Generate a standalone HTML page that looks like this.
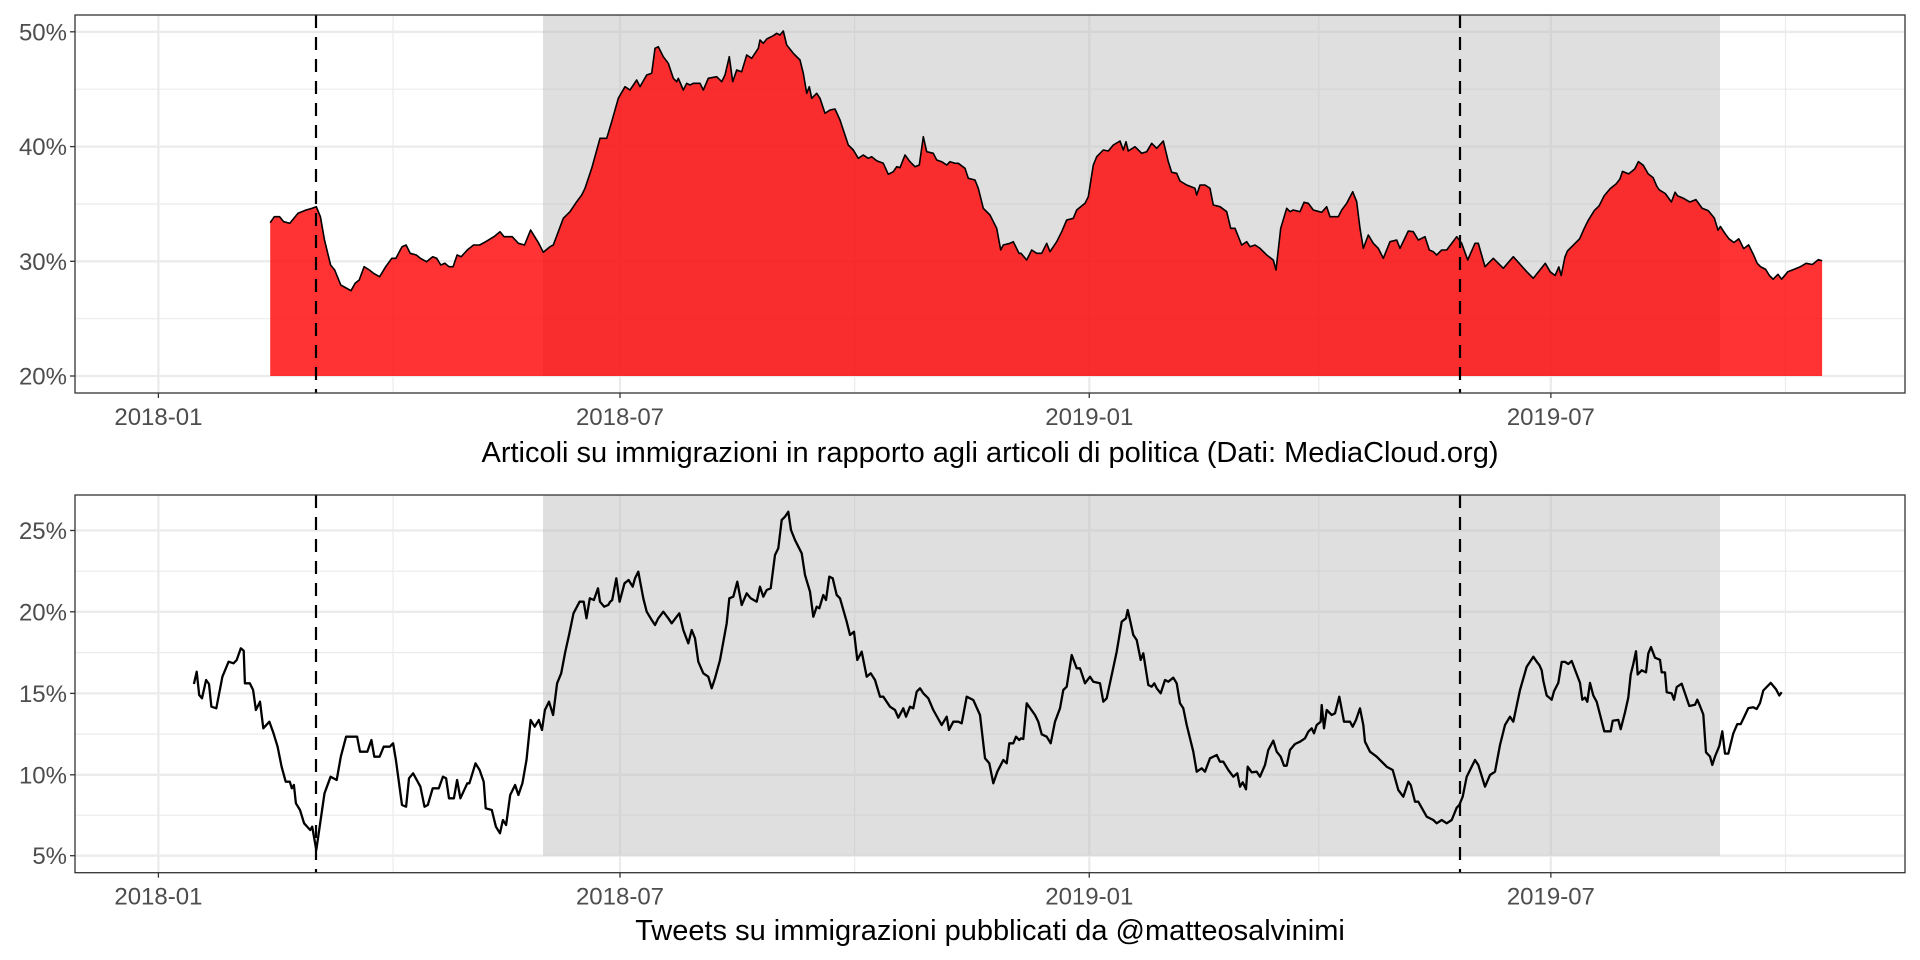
<!DOCTYPE html>
<html><head><meta charset="utf-8">
<style>
html,body{margin:0;padding:0;background:#fff;}
svg{display:block;font-family:"Liberation Sans",Arial,sans-serif;}
</style></head>
<body>
<svg id="s" width="1920" height="960" xmlns="http://www.w3.org/2000/svg">
<rect width="1920" height="960" fill="#fff"/>
<g id="g"></g>
</svg>
<script>
var NS="http://www.w3.org/2000/svg",g=document.getElementById('g');
function el(t,a,txt){var e=document.createElementNS(NS,t);for(var k in a)e.setAttribute(k,a[k]);if(txt!=null)e.textContent=txt;g.appendChild(e);return e;}
function X(d){return 158.4+d*2.5503;}
var xt=[0,181,365,546],xl=["2018-01","2018-07","2019-01","2019-07"],xm=[92,273,455,638];
function panel(top,bot,yt,ym,yl,shBot){
  var L=75,R=1905;
  ym.forEach(function(y){el('line',{x1:L,x2:R,y1:y,y2:y,stroke:'#ebebeb','stroke-width':1.2});});
  xm.forEach(function(d){var x=X(d);if(x<R)el('line',{x1:x,x2:x,y1:top,y2:bot,stroke:'#ebebeb','stroke-width':1.2});});
  yt.forEach(function(y){el('line',{x1:L,x2:R,y1:y,y2:y,stroke:'#ebebeb','stroke-width':2.3});});
  xt.forEach(function(d){var x=X(d);el('line',{x1:x,x2:x,y1:top,y2:bot,stroke:'#ebebeb','stroke-width':2.3});});
  el('rect',{x:543,y:top,width:1720-543,height:shBot-top,fill:'#bdbdbd','fill-opacity':0.48});
}
function panelFront(top,bot,yt,yl){
  var L=75,R=1905;
  [316,1460].forEach(function(x){el('line',{x1:x,x2:x,y1:top,y2:bot,stroke:'#000','stroke-width':2.2,'stroke-dasharray':'13,9'});});
  el('rect',{x:L,y:top,width:R-L,height:bot-top,fill:'none',stroke:'#333','stroke-width':1.3});
  yt.forEach(function(y,i){el('line',{x1:L-5,x2:L,y1:y,y2:y,stroke:'#333','stroke-width':1.3});
    el('text',{x:L-8,y:y+8.5,'text-anchor':'end','font-size':24,fill:'#4d4d4d'},yl[i]);});
  xt.forEach(function(d,i){var x=X(d);el('line',{x1:x,x2:x,y1:bot,y2:bot+5,stroke:'#333','stroke-width':1.3});
    el('text',{x:x,y:bot+32,'text-anchor':'middle','font-size':24,fill:'#4d4d4d'},xl[i]);});
}
function seg(p,ox,oy,sx,sy){var r=[];for(var i=0;i<p.length;i+=2)r.push([ox+p[i]/sx,oy+p[i+1]/sy]);return r;}
var A=seg([662,668,672,650,685,650,695,665,710,670,730,640,750,630,765,625,775,620,785,650,795,720,810,795,820,810,835,855,860,872,870,850,880,840,892,800,905,810,915,820,930,830,945,800,960,775,970,775,985,740,995,735,1005,760,1020,765,1030,775,1045,785,1060,770,1070,775,1080,795,1090,790,1100,800,1110,800,1120,765,1130,770,1145,750,1160,735,1175,735,1190,725,1210,710,1225,695,1235,710,1255,710,1270,730,1285,735,1300,690,1310,710,1320,730],0,0,2.45,3);
var B=seg([130,712,150,695,160,690,190,610,210,590,230,560,245,540,255,520,275,460,300,370,320,370,335,320,355,250,375,215,390,225,410,195,420,215,440,180,455,175,465,100,475,95,490,125,505,145,520,190,530,200,535,190,550,225,560,205,570,210,580,205,600,205,610,225,625,190,650,185,665,200,675,180,688,125,698,200,710,165,725,170,740,120,755,130,775,100,780,75,790,85,800,72,820,62,830,55,840,60,850,48,860,90,880,115,900,135,910,175,920,235,928,215,935,250,950,235,960,250,975,295,990,285,1005,282,1020,315,1045,390,1060,405,1075,430,1090,420,1105,430,1115,425,1130,437,1150,445,1165,478,1180,470,1190,455,1200,458,1215,420,1230,440,1245,455,1258,450,1270,365,1280,410,1300,415,1310,435,1325,440,1340,450,1350,440,1365,445,1375,445,1395,460,1405,490,1425,495,1435,520,1450,580,1470,600,1490,640,1502,705,1510,690,1530,685,1540,680,1557,715],500,15,3,3);
var C=seg([3,715,20,735,35,705,50,715,65,715,80,685,90,710,110,680,125,650,140,615,160,610,170,585,195,565,205,545,220,450,230,425,250,405,265,408,280,390,300,378,310,405,318,380,325,408,345,395,365,415,380,410,395,385,410,400,430,378,445,440,455,472,470,475,480,498,500,510,525,520,530,540,540,510,555,510,570,520,580,570,600,575,620,590,632,640,645,640,665,690,680,680,690,695,705,690,720,700,740,720,760,735,768,765,782,640,800,580,810,590,820,585,840,590,852,562,865,565,880,585,905,592,920,575,930,605,955,605,965,585,980,565,998,530,1010,560,1020,640,1030,700,1045,660,1060,685,1075,700,1090,730,1110,680,1130,675,1140,700,1165,648,1180,650,1195,675,1215,665,1228,705,1240,710,1250,720,1265,705,1280,705,1310,665,1325,685,1343,735,1365,685,1375,685,1395,755,1420,730,1450,760,1480,725,1520,770,1540,790],1020,15,3,3);
var D=seg([1262,215,1266,222,1270,225,1273,218,1275,225,1278,210,1280,205,1285,200,1290,195,1294,186,1297,180,1302,172,1306,168,1310,160,1315,154,1320,150,1323,146,1325,140,1330,142,1335,138,1338,132,1342,135,1346,142,1350,145,1353,152,1355,155,1360,158,1365,165,1368,157,1370,160,1375,162,1380,165,1385,163,1390,170,1395,172,1400,178,1403,188,1405,185,1409,191,1412,195,1416,198,1420,195,1424,203,1428,200,1432,208,1435,215,1438,218,1442,220,1445,225,1448,228,1452,224,1455,228,1460,222,1465,220,1470,218,1475,215,1480,216,1485,212,1488,213],0,0,1/1.2245,1/1.2245);
var T=A.concat(B,C,D);
var E=seg([475,612,482,575,488,645,495,655,505,600,512,612,518,680,530,685,545,590,560,545,572,550,580,540,590,505,597,512,600,610,612,610,620,630,627,690,637,665,645,745,660,725,670,760,680,800,690,860,700,905,710,905,715,925,720,915,725,970,735,990,745,1030,760,1050,765,1040,775,1110,795,940,810,890,825,900,835,830,848,770,875,770,882,815,900,815,910,780,917,830,930,830,940,800,955,800,963,790,970,840,985,975,995,980,1002,895,1012,880,1030,920,1040,980,1048,975,1060,925,1075,925,1085,890,1093,895,1100,955,1112,955,1120,900,1128,955,1145,910,1150,910,1165,850,1175,870,1185,905,1190,985,1205,990,1215,1040,1225,1060,1232,1020,1240,1035,1250,945,1262,915,1270,945,1280,910,1290,840,1300,720,1310,740,1320,720,1328,750,1335,690,1345,665,1355,705,1365,610,1375,580,1385,515,1395,460,1405,400,1420,365,1430,365,1437,415,1445,355,1455,360,1465,325,1470,365,1480,380,1490,375,1495,365,1500,360,1510,295,1518,365,1530,310,1540,300,1550,320],0,480,2.45,3);
var F=seg([405,250,415,230,430,310,440,350,455,375,465,390,475,370,490,350,505,370,515,385,530,365,538,355,550,405,565,445,575,405,585,430,595,500,610,535,625,545,635,580,645,550,660,495,680,385,688,310,700,305,712,260,725,330,740,295,752,310,770,320,780,275,790,305,800,285,812,280,825,180,835,160,845,75,855,65,865,50,873,105,885,135,905,175,915,240,930,290,940,365,950,335,958,340,970,300,978,315,988,245,998,250,1010,300,1020,310,1040,380,1050,420,1062,410,1072,495,1085,470,1100,545,1112,535,1125,555,1140,605,1150,605,1170,635,1185,645,1195,668,1210,640,1218,665,1230,635,1240,640,1250,590,1260,580,1270,595,1285,610,1300,645,1315,672,1325,690,1340,665,1347,705,1360,680,1375,680,1385,685,1400,605,1420,615,1440,660,1455,790,1468,805,1480,865,1492,830,1510,795,1520,805,1528,745,1540,745,1548,725,1558,735],500,495,3,3);
var G=seg([3,730,10,732,20,625,45,660,55,680,65,718,80,725,92,745,105,680,120,640,130,585,140,575,155,480,170,520,180,520,195,565,210,545,220,560,240,565,250,620,260,610,275,540,290,470,305,380,318,370,323,345,330,375,340,420,350,435,362,495,370,475,385,570,395,575,403,565,410,580,422,595,435,555,445,560,460,548,470,565,480,625,490,640,500,690,520,770,530,830,545,820,555,830,570,790,590,780,600,800,610,800,625,825,640,845,652,835,660,875,668,862,678,883,683,815,695,832,710,830,720,845,735,810,745,765,760,737,770,770,782,785,792,812,800,812,810,765,825,747,840,740,855,730,865,710,875,700,882,715,890,690,902,680,905,630,912,700,920,645,935,660,945,655,958,605,972,680,990,680,998,695,1008,675,1020,640,1030,690,1035,740,1050,770,1070,785,1100,815,1118,825,1135,885,1150,905,1165,860,1172,870,1185,920,1195,920,1220,965,1240,975,1250,985,1265,975,1280,985,1295,975,1310,938,1318,930,1328,905,1340,845,1365,795,1375,810,1395,875,1410,840,1425,830,1440,750,1455,690,1470,665,1480,680,1500,585,1520,515,1540,485,1550,500,1558,510],1020,495,3,3);
var H=seg([425,880,430,905,440,940,455,950,462,930,475,910,485,860,495,860,505,865,515,858,528,885,540,910,547,950,555,945,562,955,570,910,580,940,590,955,600,985,613,1025,625,1025,632,1025,638,1000,655,998,662,1020,675,980,685,945,692,890,700,865,708,835,713,890,725,880,738,885,745,840,753,825,765,850,780,855,785,885,795,885,800,932,815,935,822,950,830,920,845,912,855,935,868,965,885,962,892,950,900,965,910,985,918,1075,930,1085,937,1105,945,1085,958,1060,967,1025,975,1078,985,1078,1000,1030,1012,1008,1022,1008,1030,995,1045,970,1060,968,1070,972,1080,958,1090,928,1112,910,1128,925,1138,940,1145,932],1400,300,3,2.3766);
var Bt=E.concat(F,G,H);
function ps(p){return p.map(function(q){return q[0].toFixed(1)+','+q[1].toFixed(1);}).join(' ');}

var tY=[31.8,146.6,261.3,376],tM=[89.2,204,318.7];
panel(15,393,tY,tM,null,376);
var poly=[[T[0][0],376]].concat(T,[[T[T.length-1][0],376]]);
el('polygon',{points:ps(poly),fill:'#ff0000','fill-opacity':0.8});
el('polyline',{points:ps(T),fill:'none',stroke:'#000','stroke-width':1.6,'stroke-linejoin':'round'});
panelFront(15,393,tY,["50%","40%","30%","20%"]);
el('text',{x:990,y:462,'text-anchor':'middle','font-size':29,fill:'#000'},"Articoli su immigrazioni in rapporto agli articoli di politica (Dati: MediaCloud.org)");

var bY=[530.5,611.8,693.4,774.8,855.7],bM=[571.2,652.6,734.1,815.2];
panel(495,872.7,bY,bM,null,855.7);
el('polyline',{points:ps(Bt),fill:'none',stroke:'#000','stroke-width':2.3,'stroke-linejoin':'round'});
panelFront(495,872.7,bY,["25%","20%","15%","10%","5%"]);
el('text',{x:990,y:940,'text-anchor':'middle','font-size':29,fill:'#000'},"Tweets su immigrazioni pubblicati da @matteosalvinimi");
</script>
</body></html>
